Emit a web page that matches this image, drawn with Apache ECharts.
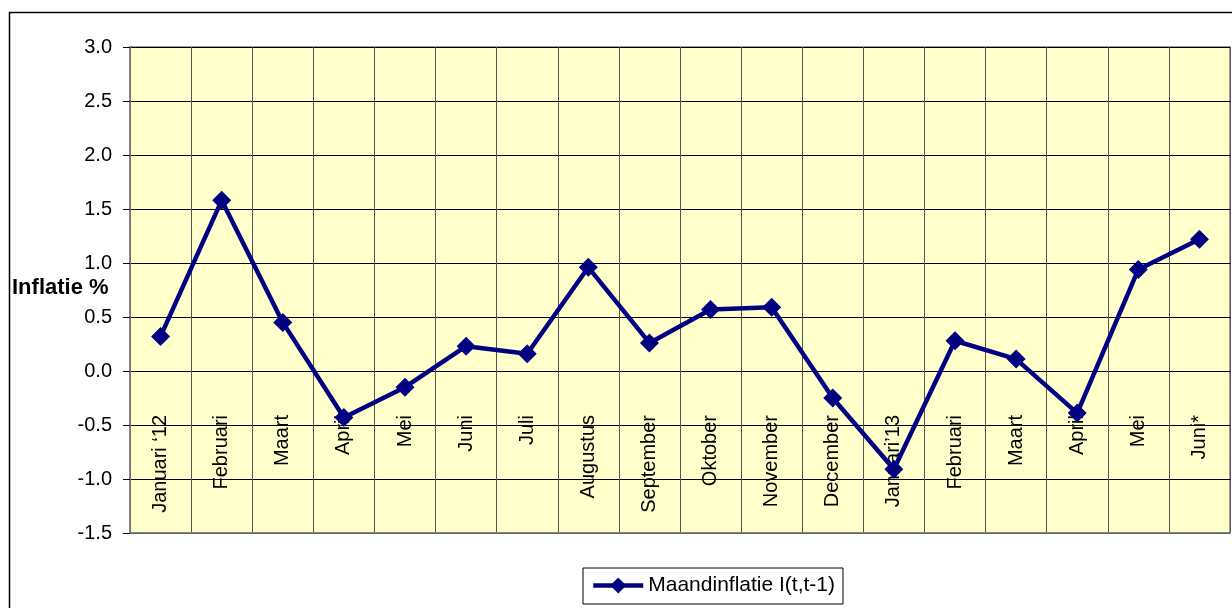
<!DOCTYPE html>
<html>
<head>
<meta charset="utf-8">
<script src="https://cdn.jsdelivr.net/npm/echarts@6/dist/echarts.min.js"></script>
<style>
  html, body { margin: 0; padding: 0; background: #fff; }
  #main { width: 1232px; height: 608px; }
</style>
</head>
<body>
<div id="main"></div>
<script>
// data
var months = ['Januari \u201812', 'Februari', 'Maart', 'April', 'Mei', 'Juni', 'Juli', 'Augustus',
  'September', 'Oktober', 'November', 'December', 'Januari\u201913', 'Februari', 'Maart', 'April', 'Mei', 'Juni*'];
var maandinflatie = [0.32, 1.58, 0.45, -0.43, -0.15, 0.23, 0.16, 0.96, 0.26, 0.57, 0.59,
  -0.25, -0.91, 0.28, 0.11, -0.39, 0.94, 1.22];
var seriesName = 'Maandinflatie I(t,t-1)';

var font = '"Liberation Sans", Arial, sans-serif';

var myChart = echarts.init(document.getElementById('main'));

var option = {
    animation: false,
    backgroundColor: '#fff',
    textStyle: { fontFamily: font },
    title: {
        text: 'Inflatie %',
        left: 12,
        top: 277,
        padding: 0,
        textStyle: { fontFamily: font, fontSize: 22, fontWeight: 'bold', color: '#000' }
    },
    graphic: [
        {
            // outer chart border
            type: 'rect',
            silent: true,
            shape: { x: 9.5, y: 12.5, width: 1300, height: 700 },
            style: { fill: 'none', stroke: '#000', lineWidth: 1.5 }
        }
    ],
    legend: {
        data: [seriesName],
        left: 583,
        top: 568,
        padding: [7, 8, 8, 8],
        borderColor: '#000',
        borderWidth: 1,
        itemWidth: 50,
        itemHeight: 20,
        itemGap: 5,
        lineStyle: { width: 4.5 },
        textStyle: { fontFamily: font, fontSize: 21, color: '#000' }
    },
    grid: {
        left: 130,
        right: 2,
        top: 47,
        bottom: 75,
        show: true,
        backgroundColor: '#FFFFCC',
        borderColor: '#808080',
        borderWidth: 1.5,
        containLabel: false,
        outerBoundsMode: 'none'
    },
    xAxis: {
        type: 'category',
        data: months,
        boundaryGap: true,
        axisLine: { show: true, onZero: false, lineStyle: { color: '#808080', width: 1.5 } },
        axisTick: { show: false },
        splitLine: { show: true, interval: 0, lineStyle: { color: '#555', width: 1 } },
        axisLabel: {
            interval: 0,
            rotate: 90,
            margin: -118,
            fontFamily: font,
            fontSize: 20,
            color: '#000'
        }
    },
    yAxis: {
        type: 'value',
        min: -1.5,
        max: 3,
        interval: 0.5,
        axisLine: { show: true, lineStyle: { color: '#808080', width: 1.5 } },
        axisTick: { show: true, length: 7, lineStyle: { color: '#000' } },
        splitLine: { show: true, lineStyle: { color: '#000', width: 1 } },
        axisLabel: {
            margin: 18,
            fontFamily: font,
            fontSize: 20,
            color: '#000',
            formatter: function (v) { return v.toFixed(1); }
        }
    },
    series: [
        {
            name: seriesName,
            type: 'line',
            data: maandinflatie,
            symbol: 'diamond',
            symbolSize: 19,
            itemStyle: { color: '#000080' },
            lineStyle: { color: '#000080', width: 4.5 }
        }
    ]
};

myChart.setOption(option);
</script>
</body>
</html>
